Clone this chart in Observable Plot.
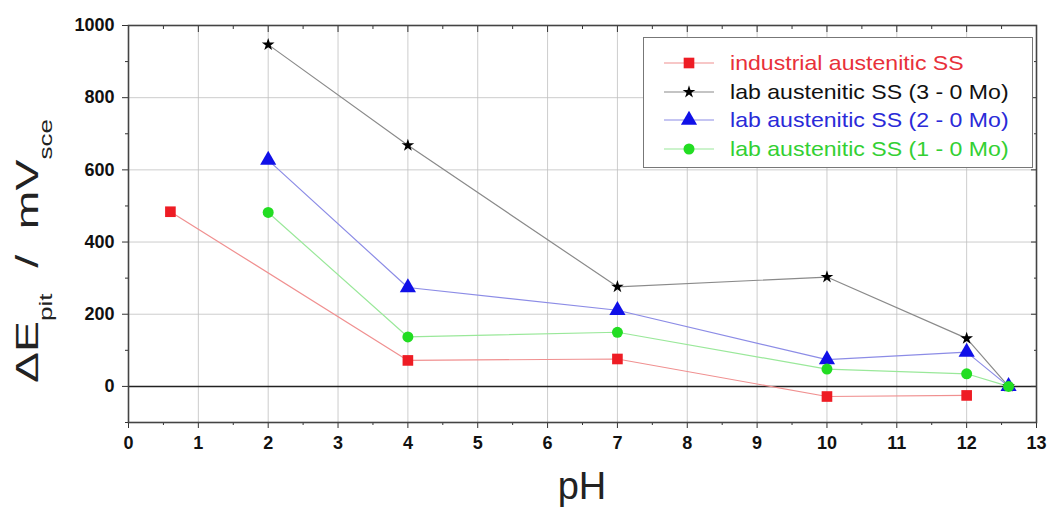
<!DOCTYPE html>
<html>
<head>
<meta charset="utf-8">
<script src="https://cdn.jsdelivr.net/npm/d3@7"></script>
<script src="https://cdn.jsdelivr.net/npm/@observablehq/plot@0.6"></script>
<style>
  html, body { margin: 0; padding: 0; background: #fff; }
  #wrap { position: relative; width: 1051px; height: 510px; font-family: "Liberation Sans", Arial, sans-serif; }
  #legend { position: absolute; left: 643px; top: 37px; width: 390px; height: 131px; border: 1px solid #777; background: #fff; box-sizing: border-box; padding-top: 11px; }
  .row { display: flex; align-items: center; height: 28.5px; }
  .row svg { margin-left: 20px; margin-right: 16px; flex: none; }
  .row span { font-size: 21px; white-space: nowrap; display: inline-block; transform: scaleX(1.1); transform-origin: left center; }
  .tk text { font-weight: bold; }
</style>
</head>
<body>
<div id="wrap"></div>
<script>
// ---- data ----
const seriesNames = ["industrial austenitic SS", "lab austenitic SS (3 - 0 Mo)", "lab austenitic SS (2 - 0 Mo)", "lab austenitic SS (1 - 0 Mo)"];
const industrialPH = [0.6, 4, 7, 10, 12];
const industrialE  = [484, 72, 76, -28, -25];
const lab3PH = [2, 4, 7, 10, 12, 12.6];
const lab3E  = [947, 668, 276, 303, 133, 0];
const lab2PH = [2, 4, 7, 10, 12, 12.6];
const lab2E  = [627, 274, 211, 74, 95, 0];
const lab1PH = [2, 4, 7, 10, 12, 12.6];
const lab1E  = [482, 137, 150, 48, 35, 0];
const xTicks = d3.range(0, 14);
const yTicks = [0, 200, 400, 600, 800, 1000];
const yMinor = [-100, 100, 300, 500, 700, 900];
const xMinor = d3.range(0.5, 13, 1);

const markerColors = ["#ee1c24", "#000000", "#1010e8", "#22dd22"];
const lineColors   = ["#f09090", "#8a8a8a", "#8c8ce6", "#9ae89a"];
const textColors   = ["#e8303a", "#111111", "#2a2ad8", "#33d033"];
const symbols = ["square", "star", "triangle", "circle"];
const radii = [6, 4, 6, 5.5];

const xs = [industrialPH, lab3PH, lab2PH, lab1PH];
const ys = [industrialE, lab3E, lab2E, lab1E];
const tables = xs.map((arr, i) => arr.map((x, j) => ({pH: x, E: ys[i][j], s: i})));

const fmt = d => String(d);
const marks = [
  Plot.gridX(d3.range(1, 13), {stroke: "#c0c0c0", strokeOpacity: 1, strokeWidth: 0.8}),
  Plot.gridY([200, 400, 600, 800], {stroke: "#c0c0c0", strokeOpacity: 1, strokeWidth: 0.8}),
  Plot.ruleY([0], {stroke: "#222", strokeWidth: 1.5}),
];
tables.forEach((t, i) => {
  marks.push(Plot.line(t, {x: "pH", y: "E", stroke: lineColors[i], strokeWidth: 1.2}));
});
tables.forEach((t, i) => {
  marks.push(Plot.dot(t, {x: "pH", y: "E", symbol: () => symbols[i], fill: markerColors[i], stroke: "none", r: radii[i]}));
});
marks.push(
  Plot.axisX({ticks: xTicks, tickFormat: fmt, tickSize: 6, tickPadding: 8, fontSize: 18, label: null, stroke: "#333", className: "tk"}),
  Plot.axisX({ticks: xMinor, tickSize: 3, text: null, label: null, stroke: "#333"}),
  Plot.axisX({anchor: "top", ticks: xTicks, tickSize: -6, text: null, label: null, stroke: "#333"}),
  Plot.axisX({anchor: "top", ticks: xMinor, tickSize: -3, text: null, label: null, stroke: "#333"}),
  Plot.axisY({ticks: yTicks, tickFormat: fmt, tickSize: 6, tickPadding: 8, fontSize: 18, label: null, stroke: "#333", className: "tk"}),
  Plot.axisY({ticks: yMinor, tickSize: 3, text: null, label: null, stroke: "#333"}),
  Plot.axisY({anchor: "right", ticks: yTicks, tickSize: -6, text: null, label: null, stroke: "#333"}),
  Plot.axisY({anchor: "right", ticks: yMinor, tickSize: -3, text: null, label: null, stroke: "#333"}),
  Plot.frame({stroke: "#444", strokeWidth: 1.6})
);

const chart = Plot.plot({
  width: 1051, height: 510,
  marginLeft: 128, marginRight: 15, marginTop: 25, marginBottom: 88,
  x: {domain: [0, 13]},
  y: {domain: [-100, 1000]},
  style: {fontFamily: "Liberation Sans, Arial, sans-serif", color: "#111", background: "#fff"},
  marks
});

const svg = d3.select(chart);
svg.selectAll(".tk text").attr("font-weight", "bold");
// y-axis label
const yl = svg.append("text")
  .attr("transform", "translate(38,251) rotate(-90) scale(1.45,1)")
  .attr("text-anchor", "middle")
  .attr("font-family", "Liberation Sans, Arial, sans-serif")
  .attr("font-size", 32)
  .attr("font-weight", "normal")
  .attr("fill", "#222");
yl.append("tspan").text("ΔE");
yl.append("tspan").attr("font-size", 18).attr("dy", 14).text("pit");
yl.append("tspan").attr("dy", -14).text("  /  mV");
yl.append("tspan").attr("font-size", 18).attr("dy", 14).text("sce");
// x-axis label
svg.append("text")
  .attr("x", 582).attr("y", 499)
  .attr("text-anchor", "middle")
  .attr("font-family", "Liberation Sans, Arial, sans-serif")
  .attr("font-size", 38)
  .attr("fill", "#222")
  .text("pH");

const wrap = document.getElementById("wrap");
wrap.appendChild(chart);

// legend
const symMap = {square: d3.symbolSquare, star: d3.symbolStar, triangle: d3.symbolTriangle, circle: d3.symbolCircle};
const legend = d3.select(wrap).append("div").attr("id", "legend");
seriesNames.forEach((name, i) => {
  const row = legend.append("div").attr("class", "row");
  const s = row.append("svg").attr("width", 50).attr("height", 20);
  s.append("line").attr("x1", 0).attr("x2", 50).attr("y1", 10).attr("y2", 10).attr("stroke", lineColors[i]).attr("stroke-width", 1.2);
  s.append("path").attr("transform", "translate(25,10)")
    .attr("d", d3.symbol(symMap[symbols[i]], Math.PI * radii[i] * radii[i])())
    .attr("fill", markerColors[i]);
  row.append("span").style("color", textColors[i]).text(name);
});
</script>
</body>
</html>
